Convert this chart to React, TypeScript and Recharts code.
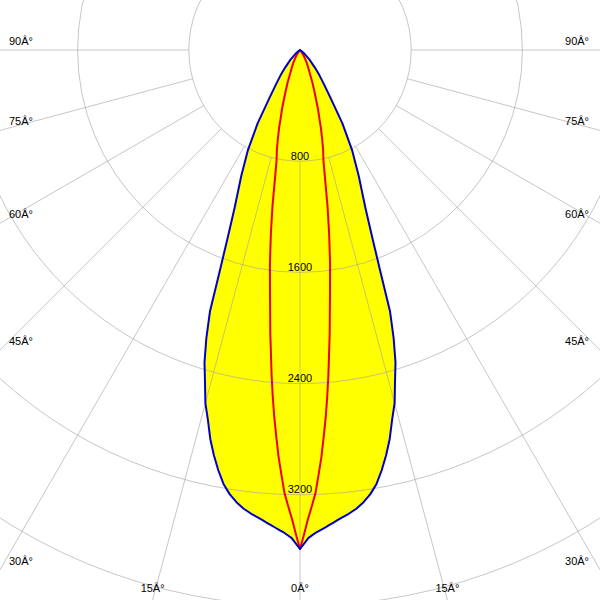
import React from 'react';
import { RadarChart, Radar, PolarGrid, PolarAngleAxis, PolarRadiusAxis } from 'recharts';

// gamma angles (deg from nadir) at which intensities were read
const GAMMA = [0, 0.5, 1, 1.5, 2, 2.5, 3, 3.5, 4, 4.5, 5, 6, 7, 8, 9, 10, 11, 12, 13, 14, 15, 16, 17, 18, 19, 20, 21, 22.5, 25, 27.5, 30, 32.5, 35, 37.5, 40, 45, 50, 55, 60];
// C0-C180 plane (blue, filled yellow), cd
const C0_C180 = [3590, 3550, 3510, 3490, 3470, 3455, 3440, 3425, 3410, 3395, 3380, 3355, 3325, 3285, 3235, 3170, 3080, 2980, 2870, 2740, 2630, 2480, 2350, 2180, 1990, 1680, 1460, 1230, 1000, 810, 610, 410, 300, 230, 170, 95, 40, 10, 0];
// C90-C270 plane (red), cd
const C90_C270 = [3590, 3480, 3370, 3280, 3190, 3060, 2935, 2790, 2650, 2500, 2345, 2045, 1770, 1555, 1340, 1140, 945, 810, 740, 660, 580, 500, 440, 375, 325, 280, 245, 190, 140, 105, 75, 50, 30, 15, 0, 0, 0, 0, 0];

const RADIUS_LABELS = [800, 1600, 2400, 3200];
const GRID_RINGS = [800, 1600, 2400, 3200, 4000];
const ANGLE_TICKS = [-90, -75, -60, -45, -30, -15, 0, 15, 30, 45, 60, 75, 90];

const rows = GAMMA.map((g, i) => ({ g, c0: C0_C180[i], c90: C90_C270[i] }));
const DATA = [
  ...rows.filter((r) => r.g > 0).reverse().map((r) => ({ angle: -r.g, blue: r.c0, red: r.c90 })),
  ...rows.map((r) => ({ angle: r.g, blue: r.c0, red: r.c90 })),
];

const W = 600;
const H = 600;
const CX = 300;
const CY = 50;
const RMAX = 5000;
const OUTER = 695;
const INNER = (OUTER * GRID_RINGS[0]) / RMAX;
const FONT = '"Liberation Sans", Arial, sans-serif';

const common = {
  width: W,
  height: H,
  cx: CX,
  cy: CY,
  outerRadius: OUTER,
  startAngle: -270,
  endAngle: 90,
  margin: { top: 0, right: 0, bottom: 0, left: 0 },
  data: DATA,
};

const AngleTick = (props: any) => {
  const { x, y, payload } = props;
  const dx0 = x - CX;
  const dy0 = y - CY;
  const len = Math.sqrt(dx0 * dx0 + dy0 * dy0) || 1;
  const dx = dx0 / len;
  const dy = dy0 / len;
  let t = Infinity;
  if (dx > 1e-6) t = Math.min(t, (W - CX) / dx);
  if (dx < -1e-6) t = Math.min(t, -CX / dx);
  if (dy > 1e-6) t = Math.min(t, (H - CY) / dy);
  if (dy < -1e-6) t = Math.min(t, -CY / dy);
  const px = CX + dx * t;
  const py = CY + dy * t;
  const label = `${Math.abs(Number(payload.value))}Â°`;
  let tx = px;
  let ty = py - 5;
  let anchor: 'start' | 'middle' | 'end' = 'middle';
  if (px < 1) {
    tx = 9;
    anchor = 'start';
  } else if (px > W - 1) {
    tx = W - 11;
    anchor = 'end';
  } else {
    ty = H - 8;
  }
  return (
    <text x={tx} y={ty} textAnchor={anchor} fontSize={11} fontFamily={FONT} fill="#000">
      {label}
    </text>
  );
};

const RadiusTick = (props: any) => {
  const { x, y, payload } = props;
  return (
    <text x={x} y={y - 1.5} textAnchor="middle" fontSize={11} fontFamily={FONT} fill="#000">
      {payload.value}
    </text>
  );
};

const layer: React.CSSProperties = { position: 'absolute', left: 0, top: 0 };

export default function App() {
  return (
    <div style={{ position: 'absolute', left: 0, top: 0, width: W, height: H, background: '#fff', overflow: 'hidden' }}>
      <div style={layer}>
        <RadarChart {...common}>
          <PolarAngleAxis dataKey="angle" type="number" domain={[-180, 180]} allowDataOverflow tick={false} axisLine={false} tickLine={false} />
          <PolarRadiusAxis angle={-90} domain={[0, RMAX]} allowDataOverflow ticks={RADIUS_LABELS} tick={RadiusTick} axisLine={false} tickLine={false} />
          <Radar dataKey="blue" stroke="none" fill="#ffff00" fillOpacity={1} dot={false} activeDot={false} isAnimationActive={false} />
        </RadarChart>
      </div>
      <div style={layer}>
        <RadarChart {...common} innerRadius={INNER}>
          <PolarGrid gridType="circle" stroke="#a0a0a0" strokeOpacity={0.6} />
          <PolarAngleAxis dataKey="angle" type="number" domain={[-180, 180]} allowDataOverflow ticks={ANGLE_TICKS} tick={AngleTick} axisLine={false} tickLine={false} />
          <PolarRadiusAxis angle={-90} domain={[GRID_RINGS[0], RMAX]} allowDataOverflow ticks={GRID_RINGS} tick={false} axisLine={false} tickLine={false} />
        </RadarChart>
      </div>
      <div style={layer}>
        <RadarChart {...common}>
          <PolarAngleAxis dataKey="angle" type="number" domain={[-180, 180]} allowDataOverflow tick={false} axisLine={false} tickLine={false} />
          <PolarRadiusAxis angle={-90} domain={[0, RMAX]} allowDataOverflow tick={false} axisLine={false} tickLine={false} />
          <Radar dataKey="red" stroke="#ee0000" strokeWidth={2} strokeLinejoin="round" fill="none" fillOpacity={0} dot={false} activeDot={false} isAnimationActive={false} />
          <Radar dataKey="blue" stroke="#0000c8" strokeWidth={2} strokeLinejoin="round" fill="none" fillOpacity={0} dot={false} activeDot={false} isAnimationActive={false} />
        </RadarChart>
      </div>
    </div>
  );
}
